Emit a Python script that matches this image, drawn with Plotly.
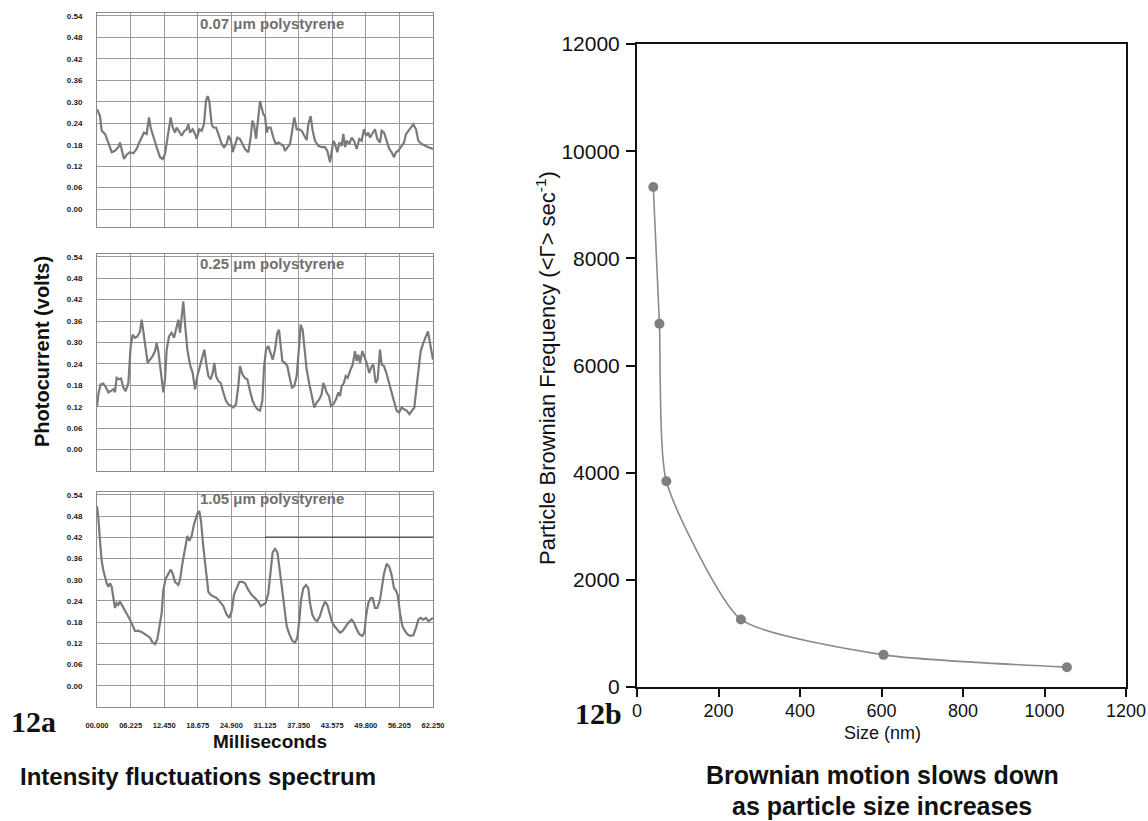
import plotly.graph_objects as go

# ---------------- data ----------------
# Panel 12a: photocurrent (volts) vs time (ms)
t_007 = [0.00,0.56,0.86,1.48,2.10,2.72,3.33,3.95,4.26,4.57,
         5.00,5.50,6.11,6.73,7.35,7.84,8.28,8.71,9.20,9.63,
         9.94,10.44,11.05,11.67,12.17,12.60,13.22,13.65,14.02,14.45,
         14.76,15.25,15.69,16.12,16.61,16.92,17.23,17.72,18.16,18.47,
         18.96,19.39,19.82,20.19,20.50,20.81,21.24,21.55,22.05,22.48,
         23.10,23.53,24.02,24.39,24.83,25.13,25.57,26.00,26.49,26.99,
         27.42,28.04,28.47,28.78,29.09,29.46,29.83,30.20,30.51,30.82,
         31.13,31.43,31.74,32.17,32.67,33.10,33.60,34.09,34.52,34.83,
         35.26,35.76,36.25,36.56,36.99,37.49,37.92,38.35,38.84,39.15,
         39.58,39.96,40.39,41.01,41.62,42.24,42.67,43.17,43.48,43.79,
         44.09,44.53,44.90,45.33,45.64,45.95,46.26,46.75,47.18,47.61,
         48.11,48.60,49.03,49.47,49.84,50.27,50.58,51.07,51.50,51.94,
         52.43,52.74,53.17,53.67,54.16,54.59,55.03,55.40,55.83,56.45,
         56.88,57.25,57.87,58.61,59.10,59.53,60.15,60.77,61.39,62.25]
v_007 = [0.279,0.26,0.219,0.21,0.186,0.159,0.163,0.173,0.186,0.168,
         0.14,0.152,0.159,0.156,0.168,0.186,0.2,0.214,0.21,0.256,
         0.228,0.2,0.173,0.145,0.14,0.154,0.21,0.256,0.228,0.214,
         0.228,0.214,0.205,0.217,0.223,0.237,0.214,0.223,0.21,0.196,
         0.223,0.219,0.237,0.302,0.316,0.302,0.237,0.228,0.228,0.21,
         0.182,0.173,0.182,0.205,0.191,0.159,0.182,0.2,0.196,0.182,
         0.168,0.159,0.2,0.247,0.237,0.196,0.247,0.302,0.283,0.265,
         0.26,0.214,0.228,0.228,0.2,0.182,0.186,0.182,0.177,0.163,
         0.173,0.182,0.228,0.256,0.223,0.223,0.219,0.205,0.193,0.237,
         0.26,0.219,0.191,0.177,0.173,0.173,0.163,0.131,0.163,0.191,
         0.182,0.159,0.186,0.177,0.21,0.173,0.191,0.182,0.2,0.191,
         0.168,0.196,0.191,0.223,0.205,0.214,0.2,0.214,0.223,0.196,
         0.186,0.219,0.214,0.191,0.168,0.159,0.145,0.159,0.163,0.177,
         0.186,0.21,0.223,0.237,0.223,0.191,0.182,0.177,0.173,0.168]

t_025 = [0.00,0.31,0.68,1.17,1.67,2.10,2.53,3.03,3.33,3.64,
         4.08,4.45,4.88,5.31,5.81,6.24,6.61,7.04,7.47,7.97,
         8.28,8.58,9.02,9.39,9.82,10.31,10.75,11.05,11.36,11.80,
         12.29,12.60,12.91,13.34,13.83,14.27,14.76,15.07,15.38,15.69,
         15.99,16.30,16.74,17.23,17.72,18.16,18.59,19.08,19.51,19.89,
         20.32,20.63,21.06,21.43,21.74,22.05,22.48,22.91,23.41,23.90,
         24.33,24.76,25.26,25.75,26.18,26.49,26.93,27.42,27.85,28.35,
         28.84,29.27,29.70,30.20,30.63,30.94,31.31,31.74,32.17,32.55,
         32.98,33.41,33.72,34.03,34.34,34.83,35.26,35.76,36.13,36.56,
         36.99,37.42,37.73,38.10,38.41,38.84,39.34,39.77,40.26,40.70,
         41.19,41.62,41.93,42.24,42.55,42.98,43.35,43.78,44.28,44.71,
         45.02,45.33,45.76,46.07,46.44,46.87,47.37,47.80,48.11,48.42,
         48.73,49.16,49.53,49.96,50.45,50.89,51.20,51.63,52.00,52.43,
         52.74,53.17,53.67,54.16,54.59,55.09,55.52,55.95,56.45,56.88,
         57.37,57.87,58.42,58.79,59.22,59.59,59.97,60.46,60.95,61.32,
         61.69,62.25]
v_025 = [0.122,0.16,0.183,0.185,0.174,0.16,0.164,0.169,0.161,0.201,
         0.197,0.199,0.174,0.164,0.187,0.29,0.322,0.313,0.317,0.331,
         0.364,0.327,0.276,0.243,0.252,0.262,0.276,0.299,0.276,0.225,
         0.16,0.197,0.28,0.317,0.327,0.313,0.345,0.364,0.327,0.382,
         0.415,0.354,0.28,0.238,0.215,0.169,0.206,0.234,0.257,0.28,
         0.234,0.206,0.197,0.215,0.243,0.206,0.192,0.187,0.16,0.136,
         0.127,0.122,0.118,0.127,0.178,0.234,0.211,0.201,0.197,0.164,
         0.136,0.122,0.113,0.109,0.136,0.229,0.28,0.29,0.271,0.252,
         0.28,0.327,0.336,0.294,0.248,0.243,0.234,0.197,0.174,0.178,
         0.206,0.285,0.35,0.336,0.28,0.225,0.183,0.15,0.118,0.132,
         0.141,0.155,0.187,0.174,0.16,0.15,0.122,0.127,0.141,0.16,
         0.15,0.178,0.187,0.206,0.201,0.22,0.238,0.276,0.248,0.266,
         0.243,0.276,0.262,0.243,0.215,0.234,0.238,0.187,0.197,0.28,
         0.238,0.234,0.211,0.187,0.16,0.132,0.109,0.104,0.118,0.113,
         0.109,0.099,0.109,0.118,0.178,0.225,0.276,0.299,0.317,0.331,
         0.299,0.252]

t_105 = [0.00,0.25,0.56,0.86,1.17,1.48,1.79,2.10,2.41,2.72,
         3.03,3.33,3.64,3.95,4.26,4.69,5.19,5.62,6.11,6.61,
         7.04,7.66,8.28,8.89,9.39,9.82,10.31,10.75,11.18,11.55,
         11.98,12.29,12.72,13.22,13.65,14.02,14.45,15.07,15.38,15.81,
         16.30,16.74,17.11,17.54,17.97,18.34,18.65,18.96,19.27,19.70,
         20.13,20.63,21.06,21.55,22.17,22.79,23.41,24.02,24.52,24.95,
         25.38,25.88,26.37,26.93,27.42,28.04,28.65,29.27,29.89,30.32,
         30.82,31.25,31.74,32.17,32.55,32.98,33.41,33.78,34.21,34.65,
         35.14,35.63,36.19,36.68,37.12,37.49,37.80,38.23,38.72,39.15,
         39.46,39.89,40.39,40.82,41.31,41.75,42.24,42.67,43.04,43.48,
         43.97,44.53,45.02,45.51,46.07,46.56,47.18,47.61,48.11,48.60,
         49.16,49.53,49.84,50.27,50.70,51.07,51.50,51.94,52.43,52.74,
         53.17,53.67,54.16,54.59,55.03,55.33,55.70,56.14,56.57,57.06,
         57.49,57.99,58.61,59.10,59.53,59.97,60.46,60.95,61.39,61.82,
         62.25]
v_105 = [0.508,0.475,0.41,0.354,0.327,0.308,0.29,0.28,0.29,0.28,
         0.252,0.22,0.234,0.229,0.238,0.225,0.211,0.201,0.187,0.169,
         0.155,0.155,0.152,0.146,0.141,0.136,0.122,0.118,0.132,0.169,
         0.206,0.271,0.303,0.317,0.329,0.317,0.294,0.285,0.299,0.345,
         0.387,0.424,0.41,0.424,0.457,0.475,0.489,0.494,0.466,0.392,
         0.327,0.266,0.257,0.252,0.248,0.238,0.225,0.201,0.192,0.211,
         0.257,0.276,0.294,0.294,0.29,0.271,0.257,0.248,0.238,0.225,
         0.229,0.234,0.262,0.331,0.378,0.387,0.378,0.336,0.28,0.215,
         0.169,0.146,0.127,0.122,0.136,0.187,0.243,0.276,0.285,0.276,
         0.234,0.201,0.187,0.183,0.197,0.22,0.238,0.229,0.206,0.183,
         0.169,0.16,0.15,0.155,0.169,0.178,0.187,0.178,0.16,0.146,
         0.141,0.15,0.197,0.234,0.248,0.248,0.22,0.22,0.243,0.271,
         0.317,0.345,0.336,0.313,0.276,0.271,0.257,0.206,0.169,0.155,
         0.146,0.141,0.143,0.164,0.187,0.192,0.187,0.192,0.183,0.187,
         0.192]

panel_titles = ["0.07 \u03bcm polystyrene", "0.25 \u03bcm polystyrene", "1.05 \u03bcm polystyrene"]
volt_ticks = [0.00, 0.06, 0.12, 0.18, 0.24, 0.30, 0.36, 0.42, 0.48, 0.54]
volt_labels = ["0.00", "0.06", "0.12", "0.18", "0.24", "0.30", "0.36", "0.42", "0.48", "0.54"]
ms_ticks = [0.0, 6.225, 12.45, 18.675, 24.9, 31.125, 37.35, 43.575, 49.8, 56.025, 62.25]
ms_labels = ["00.000", "06.225", "12.450", "18.675", "24.900", "31.125",
             "37.350", "43.575", "49.800", "56.205", "62.250"]

# Panel 12b: Brownian frequency vs particle size
size_nm = [40, 55, 72, 255, 605, 1055]
freq = [9330, 6780, 3840, 1260, 600, 370]
size_ticks = [0, 200, 400, 600, 800, 1000, 1200]
freq_ticks = [0, 2000, 4000, 6000, 8000, 10000, 12000]

# ---------------- figure ----------------
W, H = 1148, 821
def px_x(a, b):
    return [a / W, b / W]
def px_y(top, bottom):
    return [1 - bottom / H, 1 - top / H]

GRAY_LINE = "#7a7a7a"
fig = go.Figure()

series = [(t_007, v_007), (t_025, v_025), (t_105, v_105)]
for i, (t, v) in enumerate(series):
    ax = "" if i == 0 else str(i + 1)
    fig.add_trace(go.Scatter(x=t, y=v, mode="lines",
                             line=dict(color=GRAY_LINE, width=2.2),
                             xaxis="x" + ax, yaxis="y" + ax, showlegend=False,
                             hoverinfo="skip"))

fig.add_trace(go.Scatter(x=size_nm, y=freq, mode="lines+markers",
                         line=dict(color="#8a8a8a", width=1.6, shape="spline", smoothing=0.55),
                         marker=dict(color="#7f7f7f", size=10),
                         xaxis="x4", yaxis="y4", showlegend=False))

panel_px = [(13, 227, -0.05), (254, 471, -0.06), (492, 707, -0.06)]
left_x = px_x(97, 433)

layout = dict(
    width=W, height=H, margin=dict(l=0, r=0, t=0, b=0, autoexpand=False),
    paper_bgcolor="white", plot_bgcolor="white",
    font=dict(family="Liberation Sans, Arial, sans-serif", color="#111"),
)

for i, (top, bot, ymin) in enumerate(panel_px):
    ax = "" if i == 0 else str(i + 1)
    show_x = (i == 2)
    layout["xaxis" + ax] = dict(
        domain=left_x, range=[0, 62.25], anchor="y" + ax, automargin=False,
        tickvals=ms_ticks, ticktext=["<b>%s</b>" % s for s in ms_labels],
        showticklabels=show_x, tickfont=dict(size=7.5, color="#222"),
        showgrid=True, gridcolor="#9a9a9a", gridwidth=1,
        showline=True, linecolor="#8a8a8a", linewidth=1, mirror=True,
        ticks="", zeroline=False, ticklabelstandoff=11,
    )
    layout["yaxis" + ax] = dict(
        domain=px_y(top, bot), range=[ymin, 0.548], anchor="x" + ax, automargin=False,
        tickvals=volt_ticks, ticktext=["<b>%s</b>" % s for s in volt_labels],
        tickfont=dict(size=8, color="#222"),
        showgrid=True, gridcolor="#9a9a9a", gridwidth=1,
        showline=True, linecolor="#8a8a8a", linewidth=1, mirror=True,
        ticks="", zeroline=False, ticklabelstandoff=12,
    )

layout["xaxis4"] = dict(
    domain=px_x(637, 1126), range=[0, 1200], anchor="y4", automargin=False,
    tickvals=size_ticks, ticktext=[str(v) for v in size_ticks],
    tickfont=dict(size=18, color="#111"), ticklabeloverflow="allow",
    showgrid=False, zeroline=False,
    showline=True, linecolor="#111", linewidth=2, mirror=True,
    ticks="outside", ticklen=8, tickwidth=1.5, tickcolor="#111", ticklabelstandoff=-2,
)
layout["yaxis4"] = dict(
    domain=px_y(44, 687), range=[0, 12000], anchor="x4", automargin=False,
    tickvals=freq_ticks, ticktext=[str(v) for v in freq_ticks],
    tickfont=dict(size=21, color="#111"),
    showgrid=False, zeroline=False,
    showline=True, linecolor="#111", linewidth=2, mirror=True,
    ticks="outside", ticklen=9, tickwidth=1.5, tickcolor="#111", ticklabelstandoff=2,
)

fig.update_layout(**layout)

ann = []
title_y_px = [23, 263, 498]
for title, ypx in zip(panel_titles, title_y_px):
    ann.append(dict(text="<b>%s</b>" % title, x=272 / W, y=1 - ypx / H,
                    font=dict(size=15, color="#707070")))

ann += [
    dict(text="<b>Photocurrent (volts)</b>", x=42 / W, y=1 - 352 / H, textangle=-90,
         font=dict(size=20, color="#111")),
    dict(text="<b>Milliseconds</b>", x=270 / W, y=1 - 741 / H, font=dict(size=19, color="#111")),
    dict(text="<b>Intensity fluctuations spectrum</b>", x=198 / W, y=1 - 776 / H,
         font=dict(size=24, color="#111")),
    dict(text="<b>12a</b>", x=33 / W, y=1 - 721 / H,
         font=dict(size=30, color="#111", family="Liberation Serif, Times New Roman, serif")),
    dict(text="<b>12b</b>", x=598 / W, y=1 - 713 / H,
         font=dict(size=30, color="#111", family="Liberation Serif, Times New Roman, serif")),
    dict(text="Particle Brownian Frequency (&lt;\u0393&gt; sec<sup>-1</sup>)", x=546 / W, y=1 - 368 / H,
         textangle=-90, font=dict(size=22, color="#111")),
    dict(text="Size (nm)", x=882 / W, y=1 - 733 / H, font=dict(size=18, color="#111")),
    dict(text="<b>Brownian motion slows down</b>", x=882 / W, y=1 - 775 / H,
         font=dict(size=25, color="#111")),
    dict(text="<b>as particle size increases</b>", x=882 / W, y=1 - 806 / H,
         font=dict(size=25, color="#111")),
]
for a in ann:
    a.setdefault("xref", "paper")
    a.setdefault("yref", "paper")
    a.setdefault("showarrow", False)
    a.setdefault("xanchor", "center")
    a.setdefault("yanchor", "middle")
fig.update_layout(annotations=ann)

# darker line segment seen in the bottom panel
fig.add_shape(type="line", xref="x3", yref="y3", x0=31.125, x1=62.25, y0=0.42, y1=0.42,
              line=dict(color="#555", width=1.5))

fig.write_html("out.html")
